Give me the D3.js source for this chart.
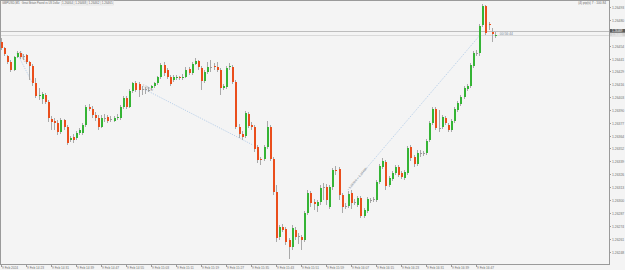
<!DOCTYPE html>
<html><head><meta charset="utf-8">
<script src="https://cdn.jsdelivr.net/npm/d3@7"></script>
<style>html,body{margin:0;padding:0;background:#f4f4f4;}svg{display:block;font-family:"Liberation Sans",Arial,sans-serif;}</style>
</head><body><svg id="c" width="625" height="270"></svg>
<script>
const opens=[1.26458,1.26452,1.26444,1.26438,1.26430,1.26443,1.26447,1.26444,1.26445,1.26438,1.26434,1.26417,1.26404,1.26401,1.26405,1.26398,1.26381,1.26379,1.26377,1.26368,1.26380,1.26373,1.26360,1.26363,1.26362,1.26367,1.26367,1.26375,1.26393,1.26391,1.26385,1.26382,1.26373,1.26382,1.26383,1.26381,1.26379,1.26382,1.26382,1.26393,1.26402,1.26393,1.26409,1.26417,1.26416,1.26411,1.26411,1.26410,1.26412,1.26414,1.26417,1.26423,1.26435,1.26430,1.26423,1.26420,1.26422,1.26423,1.26422,1.26423,1.26431,1.26427,1.26436,1.26439,1.26432,1.26419,1.26428,1.26433,1.26434,1.26433,1.26430,1.26412,1.26413,1.26433,1.26433,1.26418,1.26373,1.26366,1.26364,1.26386,1.26375,1.26373,1.26353,1.26341,1.26341,1.26353,1.26373,1.26341,1.26308,1.26263,1.26273,1.26271,1.26260,1.26253,1.26270,1.26264,1.26263,1.26260,1.26287,1.26307,1.26298,1.26294,1.26298,1.26313,1.26313,1.26293,1.26313,1.26330,1.26331,1.26305,1.26294,1.26294,1.26307,1.26298,1.26295,1.26302,1.26284,1.26289,1.26300,1.26301,1.26300,1.26318,1.26333,1.26338,1.26315,1.26321,1.26327,1.26333,1.26327,1.26322,1.26327,1.26353,1.26343,1.26336,1.26347,1.26347,1.26347,1.26360,1.26377,1.26391,1.26372,1.26373,1.26382,1.26375,1.26370,1.26379,1.26390,1.26396,1.26403,1.26411,1.26414,1.26434,1.26447,1.26447,1.26475,1.26494,1.26476,1.26468,1.26464];
const closes=[1.26452,1.26446,1.26438,1.26430,1.26443,1.26447,1.26443,1.26444,1.26438,1.26434,1.26417,1.26404,1.26405,1.26406,1.26398,1.26382,1.26378,1.26377,1.26368,1.26380,1.26373,1.26357,1.26362,1.26360,1.26367,1.26370,1.26375,1.26393,1.26391,1.26385,1.26382,1.26373,1.26382,1.26382,1.26379,1.26381,1.26382,1.26383,1.26393,1.26402,1.26393,1.26409,1.26417,1.26410,1.26410,1.26411,1.26411,1.26410,1.26414,1.26417,1.26423,1.26435,1.26427,1.26423,1.26416,1.26423,1.26423,1.26422,1.26423,1.26430,1.26427,1.26436,1.26439,1.26433,1.26419,1.26428,1.26433,1.26433,1.26433,1.26430,1.26412,1.26414,1.26432,1.26434,1.26418,1.26373,1.26366,1.26363,1.26387,1.26374,1.26373,1.26351,1.26340,1.26340,1.26353,1.26373,1.26341,1.26308,1.26262,1.26273,1.26270,1.26258,1.26253,1.26272,1.26263,1.26264,1.26260,1.26287,1.26307,1.26297,1.26296,1.26298,1.26312,1.26313,1.26300,1.26313,1.26330,1.26329,1.26305,1.26293,1.26294,1.26306,1.26297,1.26298,1.26302,1.26284,1.26290,1.26301,1.26300,1.26301,1.26318,1.26334,1.26339,1.26314,1.26322,1.26327,1.26333,1.26325,1.26323,1.26328,1.26352,1.26342,1.26336,1.26347,1.26347,1.26347,1.26359,1.26377,1.26391,1.26372,1.26372,1.26383,1.26377,1.26370,1.26379,1.26391,1.26397,1.26403,1.26412,1.26414,1.26435,1.26447,1.26447,1.26474,1.26494,1.26467,1.26475,1.26466,1.26465];
const highs=[1.26462,1.26453,1.26445,1.26440,1.26444,1.26449,1.26449,1.26446,1.26446,1.26439,1.26436,1.26422,1.26412,1.26408,1.26407,1.26400,1.26384,1.26382,1.26380,1.26382,1.26381,1.26375,1.26364,1.26366,1.26369,1.26372,1.26377,1.26395,1.26396,1.26394,1.26388,1.26385,1.26385,1.26386,1.26385,1.26384,1.26384,1.26386,1.26395,1.26404,1.26404,1.26411,1.26418,1.26419,1.26418,1.26414,1.26413,1.26413,1.26415,1.26418,1.26424,1.26437,1.26438,1.26432,1.26425,1.26425,1.26425,1.26424,1.26426,1.26433,1.26433,1.26438,1.26442,1.26440,1.26434,1.26430,1.26438,1.26440,1.26437,1.26438,1.26432,1.26416,1.26434,1.26437,1.26435,1.26420,1.26376,1.26369,1.26389,1.26388,1.26378,1.26375,1.26355,1.26343,1.26355,1.26379,1.26375,1.26343,1.26315,1.26275,1.26276,1.26273,1.26262,1.26275,1.26273,1.26267,1.26265,1.26289,1.26310,1.26309,1.26301,1.26300,1.26315,1.26317,1.26316,1.26315,1.26332,1.26334,1.26333,1.26307,1.26297,1.26309,1.26310,1.26301,1.26304,1.26304,1.26292,1.26303,1.26302,1.26303,1.26320,1.26336,1.26342,1.26340,1.26324,1.26329,1.26335,1.26335,1.26329,1.26330,1.26354,1.26355,1.26345,1.26350,1.26350,1.26349,1.26361,1.26379,1.26393,1.26393,1.26390,1.26385,1.26384,1.26377,1.26381,1.26393,1.26399,1.26405,1.26414,1.26416,1.26437,1.26449,1.26450,1.26476,1.26496,1.26495,1.26478,1.26472,1.26468];
const lows=[1.26450,1.26444,1.26436,1.26428,1.26429,1.26442,1.26441,1.26440,1.26436,1.26420,1.26414,1.26402,1.26400,1.26396,1.26396,1.26378,1.26370,1.26370,1.26365,1.26366,1.26370,1.26355,1.26358,1.26357,1.26360,1.26365,1.26365,1.26373,1.26389,1.26382,1.26379,1.26370,1.26372,1.26378,1.26377,1.26378,1.26378,1.26380,1.26380,1.26391,1.26391,1.26392,1.26407,1.26408,1.26403,1.26405,1.26406,1.26408,1.26410,1.26412,1.26415,1.26421,1.26424,1.26421,1.26414,1.26418,1.26420,1.26420,1.26420,1.26422,1.26425,1.26425,1.26435,1.26430,1.26410,1.26417,1.26426,1.26428,1.26430,1.26428,1.26405,1.26410,1.26411,1.26430,1.26416,1.26371,1.26362,1.26360,1.26362,1.26372,1.26370,1.26348,1.26337,1.26335,1.26339,1.26351,1.26339,1.26305,1.26258,1.26260,1.26268,1.26255,1.26241,1.26250,1.26260,1.26256,1.26250,1.26258,1.26285,1.26293,1.26290,1.26288,1.26295,1.26300,1.26295,1.26291,1.26310,1.26325,1.26300,1.26287,1.26291,1.26292,1.26291,1.26295,1.26293,1.26282,1.26282,1.26287,1.26297,1.26298,1.26298,1.26316,1.26331,1.26310,1.26313,1.26319,1.26325,1.26323,1.26321,1.26320,1.26325,1.26339,1.26333,1.26334,1.26343,1.26344,1.26345,1.26358,1.26375,1.26370,1.26368,1.26371,1.26375,1.26368,1.26368,1.26377,1.26388,1.26394,1.26401,1.26409,1.26412,1.26432,1.26444,1.26444,1.26473,1.26465,1.26470,1.26458,1.26462];
const xTickBars=[0,8,16,24,32,40,48,56,64,72,80,88,96,104,112,120,128,136,144,152];
const xTickLabels=["9 Feb 2024","9 Feb 14:23","9 Feb 14:31","9 Feb 14:39","9 Feb 14:47","9 Feb 14:55","9 Feb 15:03","9 Feb 15:11","9 Feb 15:19","9 Feb 15:27","9 Feb 15:35","9 Feb 15:43","9 Feb 15:51","9 Feb 15:59","9 Feb 16:07","9 Feb 16:15","9 Feb 16:23","9 Feb 16:31","9 Feb 16:39","9 Feb 16:47"];
const yTickValues=[1.26493,1.26480,1.26467,1.26454,1.26441,1.26429,1.26416,1.26403,1.26390,1.26377,1.26364,1.26352,1.26339,1.26326,1.26313,1.26300,1.26287,1.26274,1.26261,1.26248];
const askPrice=1.26469;
const trendLines=[
 {from:[5.1,1.26447],to:[9.9,1.26418],label:"1.26447"},
 {from:[44.5,1.26413],to:[80.6,1.26355],label:"1.26413"},
 {from:[111,1.26310],to:[153.3,1.26465],label:"1.26310 > 1.26465"}];
const titleParts=["GBPUSD,M1","Great Britain Pound vs US Dollar","1.26464","1.26468","1.26462","1.26465"];

const W=625,H=270,plotR=609,plotB=264;
const svg=d3.select("#c");
const x=d3.scaleLinear().domain([0,158]).range([1,1+158*3.125]);
const y=d3.scaleLinear().domain([1.26500,1.26236]).range([0,264]);
const data=opens.map((o,i)=>({i,o,c:closes[i],h:highs[i],l:lows[i]}));

svg.append("rect").attr("width",W).attr("height",H).attr("fill","#f4f4f4");
svg.append("rect").attr("x",0.5).attr("y",0.5).attr("width",plotR).attr("height",plotB)
  .attr("fill","none").attr("stroke","#9a9a9a").attr("stroke-width",1).attr("shape-rendering","crispEdges");

const tl=svg.append("g");
trendLines.forEach(t=>{
  const x1=x(t.from[0]),y1=y(t.from[1]),x2=x(t.to[0]),y2=y(t.to[1]);
  tl.append("line").attr("x1",x1).attr("y1",y1).attr("x2",x2).attr("y2",y2)
    .attr("stroke","#a9c6e6").attr("stroke-width",0.8).attr("stroke-dasharray","1.2,1.2");
  const ang=Math.atan2(y2-y1,x2-x1)*180/Math.PI;
  tl.append("text").attr("transform",`translate(${x1+2},${y1-1}) rotate(${ang})`)
    .attr("font-size",3.2).attr("fill","#8a8a8a").text(t.label);
});

const bid=closes[closes.length-1];
svg.append("line").attr("x1",1).attr("x2",plotR).attr("y1",Math.round(y(askPrice))+0.5).attr("y2",Math.round(y(askPrice))+0.5)
  .attr("stroke","#bdbdbd").attr("stroke-width",1);
svg.append("line").attr("x1",1).attr("x2",plotR).attr("y1",Math.round(y(bid))+0.5).attr("y2",Math.round(y(bid))+0.5)
  .attr("stroke","#dadada").attr("stroke-width",1);

const g=svg.append("g").attr("shape-rendering","crispEdges");
g.selectAll("line.w").data(data).join("line").attr("class","w")
  .attr("x1",d=>Math.round(x(d.i))+0.5).attr("x2",d=>Math.round(x(d.i))+0.5)
  .attr("y1",d=>y(d.h)).attr("y2",d=>y(d.l)).attr("stroke","#a9a9a9").attr("stroke-width",1);
g.selectAll("rect.b").data(data).join("rect").attr("class","b")
  .attr("x",d=>Math.round(x(d.i))-0.5).attr("width",2.2)
  .attr("y",d=>Math.min(y(d.o),y(d.c)))
  .attr("height",d=>Math.max(1,Math.abs(y(d.o)-y(d.c))))
  .attr("fill",d=>d.c>d.o?"#35b435":(d.c<d.o?"#ea4e1c":"#9a9a9a"));

const last=data[data.length-1];
svg.append("text").attr("x",x(last.i)+5).attr("y",y(bid)).attr("font-size",3.4).attr("fill","#7a8a9a").text("00:56:44");

const ya=svg.append("g");
yTickValues.forEach(v=>{
  const yy=Math.round(y(v))+0.5;
  ya.append("line").attr("x1",plotR).attr("x2",plotR+2).attr("y1",yy).attr("y2",yy).attr("stroke","#9a9a9a").attr("shape-rendering","crispEdges");
  if(Math.abs(y(v)-y(askPrice))<5||Math.abs(y(v)-y(bid))<5) return;
  ya.append("text").attr("x",plotR+3).attr("y",yy+1.2).attr("font-size",3.4).attr("fill","#707070").text(v.toFixed(5));
});
// price labels (ask above, bid below)
const ay=y(askPrice), by=y(bid);
svg.append("rect").attr("x",plotR+1).attr("y",ay-2).attr("width",15).attr("height",3.8).attr("fill","#5c5c5c");
svg.append("text").attr("x",plotR+3).attr("y",ay+1).attr("font-size",2.9).attr("fill","#ffffff").text(askPrice.toFixed(5));
svg.append("rect").attr("x",plotR+1).attr("y",ay+1.9).attr("width",15).attr("height",3.6).attr("fill","#d4d4d4");
svg.append("text").attr("x",plotR+3).attr("y",ay+4.9).attr("font-size",2.9).attr("fill","#f7f7f7").text(bid.toFixed(5));

const xa=svg.append("g");
xTickBars.forEach((b,k)=>{
  const xx=Math.round(x(b))+0.5;
  xa.append("line").attr("x1",xx).attr("x2",xx).attr("y1",plotB).attr("y2",plotB+2.5).attr("stroke","#9a9a9a").attr("shape-rendering","crispEdges");
  xa.append("text").attr("x",xx+0.5).attr("y",plotB+4.6).attr("font-size",3.2).attr("fill","#707070").text(xTickLabels[k]);
});

let tx=2;
titleParts.forEach((t,k)=>{
  const el=svg.append("text").attr("x",tx).attr("y",4).attr("font-size",k===1?2.6:3).attr("fill","#6a6a6a").text(t);
  const w=el.node().getComputedTextLength();
  if(k>=2){svg.append("rect").attr("x",tx-0.8).attr("y",0.6).attr("width",w+1.6).attr("height",4.4).attr("fill","none").attr("stroke","#cfcfcf").attr("stroke-width",0.4);}
  tx+=w+(k===0?2:2.4);
});
svg.append("text").attr("x",606).attr("y",4.2).attr("text-anchor","end").attr("font-size",3.2).attr("fill","#6a6a6a").text("(4) pip(s) 7 : 100.84");
</script></body></html>
